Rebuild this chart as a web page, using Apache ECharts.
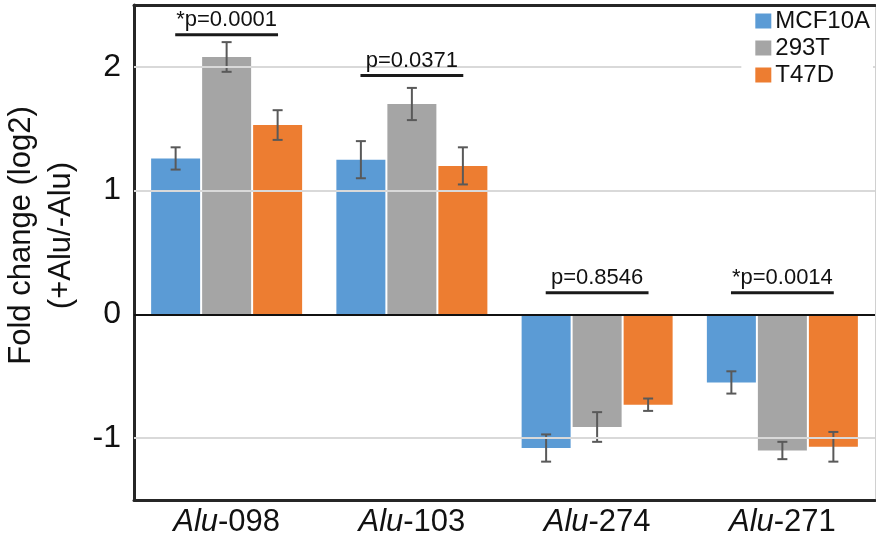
<!DOCTYPE html>
<html>
<head>
<meta charset="utf-8">
<script src="https://cdn.jsdelivr.net/npm/echarts@6/dist/echarts.min.js"></script>
<style>html,body{margin:0;padding:0;background:#fff;}#c{width:876px;height:542px;}</style>
</head>
<body>
<div id="c"></div>
<script>
// ---- data ----
const categories = ['Alu-098', 'Alu-103', 'Alu-274', 'Alu-271'];
const seriesNames = ['MCF10A', '293T', 'T47D'];
const mcf10aValues = [1.26, 1.25, -1.08, -0.55];
const t293Values = [2.08, 1.70, -0.91, -1.10];
const t47dValues = [1.53, 1.20, -0.73, -1.07];
const mcf10aErrors = [0.09, 0.15, 0.11, 0.09];
const t293Errors = [0.12, 0.13, 0.12, 0.07];
const t47dErrors = [0.12, 0.15, 0.05, 0.12];
const pLabels = ['*p=0.0001', 'p=0.0371', 'p=0.8546', '*p=0.0014'];
const pLineLevels = [2.26, 1.93, 0.175, 0.175];
const gridLevels = [-1, 1, 2];
const yTickLabels = ['-1', '0', '1', '2'];

// ---- styles ----
const FONT = 'Liberation Sans, Arial, sans-serif';
const colors = ['#5B9BD5', '#A5A5A5', '#ED7D31'];
const BAR_W = 49;
const BAR_GAP_PX = 2;

const chart = echarts.init(document.getElementById('c'), null, {renderer: 'canvas'});

const valueSets = [mcf10aValues, t293Values, t47dValues];
const errorSets = [mcf10aErrors, t293Errors, t47dErrors];

function errRenderer(k) {
  return function (params, api) {
    const idx = api.value(0);
    const v = api.value(1), e = api.value(2);
    const x = api.coord([idx, 0])[0] + (k - 1) * (BAR_W + BAR_GAP_PX);
    const yHi = api.coord([idx, v + e])[1];
    const yLo = api.coord([idx, v - e])[1];
    const st = {stroke: '#595959', lineWidth: 2};
    return {
      type: 'group',
      children: [
        {type: 'line', shape: {x1: x, y1: yHi, x2: x, y2: yLo}, style: st},
        {type: 'line', shape: {x1: x - 5, y1: yHi, x2: x + 5, y2: yHi}, style: st},
        {type: 'line', shape: {x1: x - 5, y1: yLo, x2: x + 5, y2: yLo}, style: st}
      ]
    };
  };
}

function pRenderer(params, api) {
  const idx = api.value(0);
  const lvl = api.value(1);
  const c = api.coord([idx, lvl]);
  const band = api.size([1, 0])[0];
  const half = band * 0.555 / 2;
  return {
    type: 'group',
    children: [
      {type: 'line', shape: {x1: c[0] - half, y1: c[1], x2: c[0] + half, y2: c[1]},
       style: {stroke: '#1a1a1a', lineWidth: 3}},
      {type: 'text', x: c[0], y: c[1] - 4,
       style: {text: pLabels[idx], fill: '#111', font: '22px ' + FONT, textAlign: 'center', textVerticalAlign: 'bottom'}}
    ]
  };
}

const series = [];
// gridlines (behind bars)
series.push({
  type: 'line', data: [], z: 1, silent: true,
  markLine: {
    silent: true, symbol: 'none', label: {show: false},
    lineStyle: {color: '#d9d9d9', width: 2, type: 'solid'},
    data: gridLevels.map(g => ({yAxis: g}))
  }
});
seriesNames.forEach((name, k) => {
  series.push({
    name: name, type: 'bar', data: valueSets[k], barWidth: BAR_W, barGap: (BAR_GAP_PX / BAR_W * 100) + '%',
    itemStyle: {color: colors[k]}, z: 2
  });
});
// zero line
series.push({
  type: 'line', data: [], z: 3, silent: true,
  markLine: {
    silent: true, symbol: 'none', label: {show: false},
    lineStyle: {color: '#111', width: 2, type: 'solid'},
    data: [{yAxis: 0}]
  }
});
seriesNames.forEach((name, k) => {
  series.push({
    type: 'custom', z: 4, silent: true,
    renderItem: errRenderer(k),
    encode: {x: 0, y: 1},
    data: categories.map((c, i) => [i, valueSets[k][i], errorSets[k][i]])
  });
});
series.push({
  type: 'custom', z: 5, silent: true,
  renderItem: pRenderer,
  encode: {x: 0, y: 1},
  data: categories.map((c, i) => [i, pLineLevels[i]])
});

const option = {
  animation: false,
  backgroundColor: '#fff',
  textStyle: {fontFamily: FONT},
  grid: {left: 134, right: 1, top: 5, bottom: 42, containLabel: false, outerBoundsMode: 'none'},
  legend: {
    data: seriesNames, orient: 'vertical', right: 3, top: 9, z: 10, zlevel: 1,
    icon: 'rect', itemWidth: 16, itemHeight: 15, itemGap: 3,
    backgroundColor: '#fff', padding: [0, 3, 26, 14],
    textStyle: {fontSize: 24, color: '#111', fontFamily: FONT, padding: [0, 0, 0, -1]},
    selectedMode: false
  },
  xAxis: [{
    type: 'category', data: categories, position: 'bottom',
    axisLine: {onZero: false, lineStyle: {color: '#262626', width: 3}},
    axisTick: {show: false},
    axisLabel: {
      interval: 0, margin: 7, fontSize: 31, color: '#111', fontFamily: FONT,
      formatter: v => { const p = v.split('-'); return '{i|' + p[0] + '}-' + p[1]; },
      rich: {i: {fontStyle: 'italic', fontSize: 31, color: '#111', fontFamily: FONT}}
    }
  }, {
    type: 'category', data: categories, position: 'top',
    axisLine: {onZero: false, lineStyle: {color: '#262626', width: 3}},
    axisTick: {show: false}, axisLabel: {show: false}
  }],
  yAxis: [{
    type: 'value', min: -1.5, max: 2.5, interval: 0.5, position: 'left',
    axisLine: {show: true, onZero: false, lineStyle: {color: '#262626', width: 3}},
    axisTick: {show: false},
    splitLine: {show: false},
    axisLabel: {
      margin: 13, fontSize: 32, color: '#111', fontFamily: FONT,
      formatter: v => (yTickLabels.indexOf(String(v)) >= 0 ? String(v) : '')
    },
    name: 'Fold change (log2)\n(+Alu/-Alu)',
    nameLocation: 'middle', nameRotate: 90, nameGap: 42,
    nameTextStyle: {fontSize: 31, color: '#111', fontFamily: FONT, lineHeight: 40, padding: [0, 0, 0, 34]}
  }, {
    type: 'value', min: -1.5, max: 2.5, interval: 0.5, position: 'right',
    axisLine: {show: true, onZero: false, lineStyle: {color: '#d0d0d0', width: 1}},
    axisTick: {show: false}, axisLabel: {show: false}, splitLine: {show: false}
  }],
  series: series
};
chart.setOption(option);
</script>
</body>
</html>
